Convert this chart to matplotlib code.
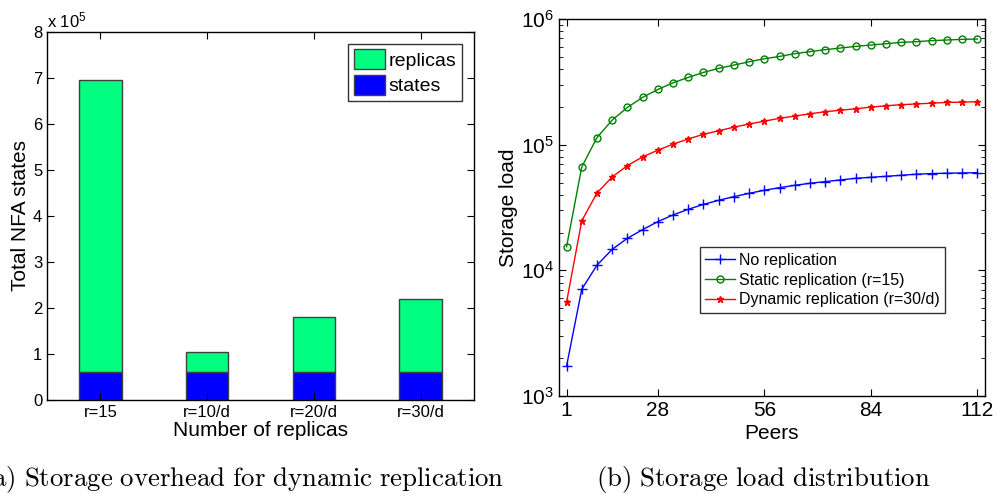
import matplotlib
matplotlib.use("Agg")
import matplotlib.pyplot as plt
from matplotlib.ticker import FuncFormatter, LogLocator, NullFormatter

plt.rcParams["font.family"] = ["Liberation Sans", "DejaVu Sans"]
plt.rcParams["mathtext.fontset"] = "custom"
plt.rcParams["mathtext.rm"] = "Liberation Sans"
plt.rcParams["mathtext.it"] = "Liberation Sans:italic"

# left panel: storage overhead
categories = ["r=15", "r=10/d", "r=20/d", "r=30/d"]
states = [60000, 60000, 60000, 60000]
totals = [695000, 105000, 180000, 220000]
replicas = [t - s for t, s in zip(totals, states)]

# right panel: storage load vs peers (28 samples)
peer_ticks = [1, 28, 56, 84, 112]
no_repl = [1730, 7080, 11000, 14700, 18000, 21100, 24400, 27600, 30600, 33500,
           36100, 38600, 41000, 43400, 45500, 47500, 49300, 50800, 52400, 54000,
           55000, 56000, 57100, 58200, 58900, 59300, 59600, 59900]
static_repl = [15400, 66500, 114000, 157000, 198000, 238000, 275000, 311000,
               343000, 376000, 405000, 430000, 457000, 483000, 504000, 530000,
               550000, 570000, 588000, 606000, 621000, 636000, 652000, 660000,
               673000, 681000, 689000, 693000]
dynamic_repl = [5580, 24800, 41300, 55400, 68200, 80000, 90400, 101000, 111000,
                121000, 129000, 138000, 146000, 154000, 162000, 169000, 176000,
                183000, 188000, 193000, 199000, 204000, 208000, 211000, 214000,
                217000, 218000, 220000]

fig = plt.figure(figsize=(9.96, 4.98), dpi=100)

# ---- left
ax1 = fig.add_axes([0.0472, 0.1968, 0.4287, 0.739])
xs = list(range(1, len(categories) + 1))
ax1.bar(xs, states, width=0.4, color="#0000ff", edgecolor="#404040",
        linewidth=1, label="states")
ax1.bar(xs, replicas, width=0.4, bottom=states, color="#00ff80",
        edgecolor="#404040", linewidth=1, label="replicas")
ax1.set_xlim(0.5, 4.5)
ax1.set_ylim(0, 800000)
ax1.set_yticks([i * 100000 for i in range(9)])
ax1.yaxis.set_major_formatter(FuncFormatter(lambda v, p: "%d" % round(v / 1e5)))
ax1.set_xticks(xs)
ax1.set_xticklabels(categories)
ax1.tick_params(direction="in", top=True, right=True, labelsize=12, length=5)
ax1.set_xlabel("Number of replicas", fontsize=15, labelpad=1)
ax1.set_ylabel("Total NFA states", fontsize=15, labelpad=2)
ax1.text(0.0, 1.005, r"x 10$^{5}$", transform=ax1.transAxes, fontsize=12,
         ha="left", va="bottom")
h, l = ax1.get_legend_handles_labels()
leg1 = ax1.legend(h[::-1], l[::-1], loc="upper right", fontsize=14,
                  frameon=True, fancybox=False, edgecolor="black",
                  handlelength=1.6, handleheight=1.2, handletextpad=0.2,
                  borderpad=0.3, labelspacing=0.25, borderaxespad=0.6)
leg1.get_frame().set_linewidth(1)

# ---- right
ax2 = fig.add_axes([0.5612, 0.2048, 0.4277, 0.757])
idx = list(range(1, len(no_repl) + 1))
ax2.plot(idx, no_repl, color="#0000ff", marker="+", markersize=7, lw=1,
         label="No replication")
ax2.plot(idx, static_repl, color="#008000", marker="o", markersize=5,
         markerfacecolor="none", lw=1, label="Static replication (r=15)")
ax2.plot(idx, dynamic_repl, color="#ff0000", marker="*", markersize=5, lw=1,
         label="Dynamic replication (r=30/d)")
ax2.set_yscale("log")
ax2.set_ylim(1e3, 1e6)
ax2.set_xlim(0.5, 28.5)
ax2.set_xticks([1, 7, 14, 21, 28])
ax2.set_xticklabels([str(p) for p in peer_ticks])
ax2.yaxis.set_minor_locator(LogLocator(base=10, subs=range(2, 10)))
ax2.yaxis.set_minor_formatter(NullFormatter())
ax2.tick_params(which="both", direction="in", top=True, right=True, labelsize=15)
ax2.tick_params(which="major", length=5)
ax2.tick_params(which="minor", length=3)
ax2.set_xlabel("Peers", fontsize=15, labelpad=3)
ax2.set_ylabel("Storage load", fontsize=15, labelpad=2)
leg2 = ax2.legend(loc="lower left", bbox_to_anchor=(0.33, 0.22), fontsize=11.5,
                  frameon=True, fancybox=False, edgecolor="black",
                  handlelength=1.9, handletextpad=0.2, borderpad=0.35,
                  labelspacing=0.3, borderaxespad=0)
leg2.get_frame().set_linewidth(1)

for ax in (ax1, ax2):
    for sp in ax.spines.values():
        sp.set_linewidth(1)

fig.text(0.244, 0.038, r"$\mathrm{(a)\ Storage\ overhead\ for\ dynamic\ replication}$",
         fontsize=19.3, ha="center", va="center", math_fontfamily="cm")
fig.text(0.766, 0.038, r"$\mathrm{(b)\ Storage\ load\ distribution}$",
         fontsize=19.3, ha="center", va="center", math_fontfamily="cm")

fig.savefig("out.png", dpi=100)
